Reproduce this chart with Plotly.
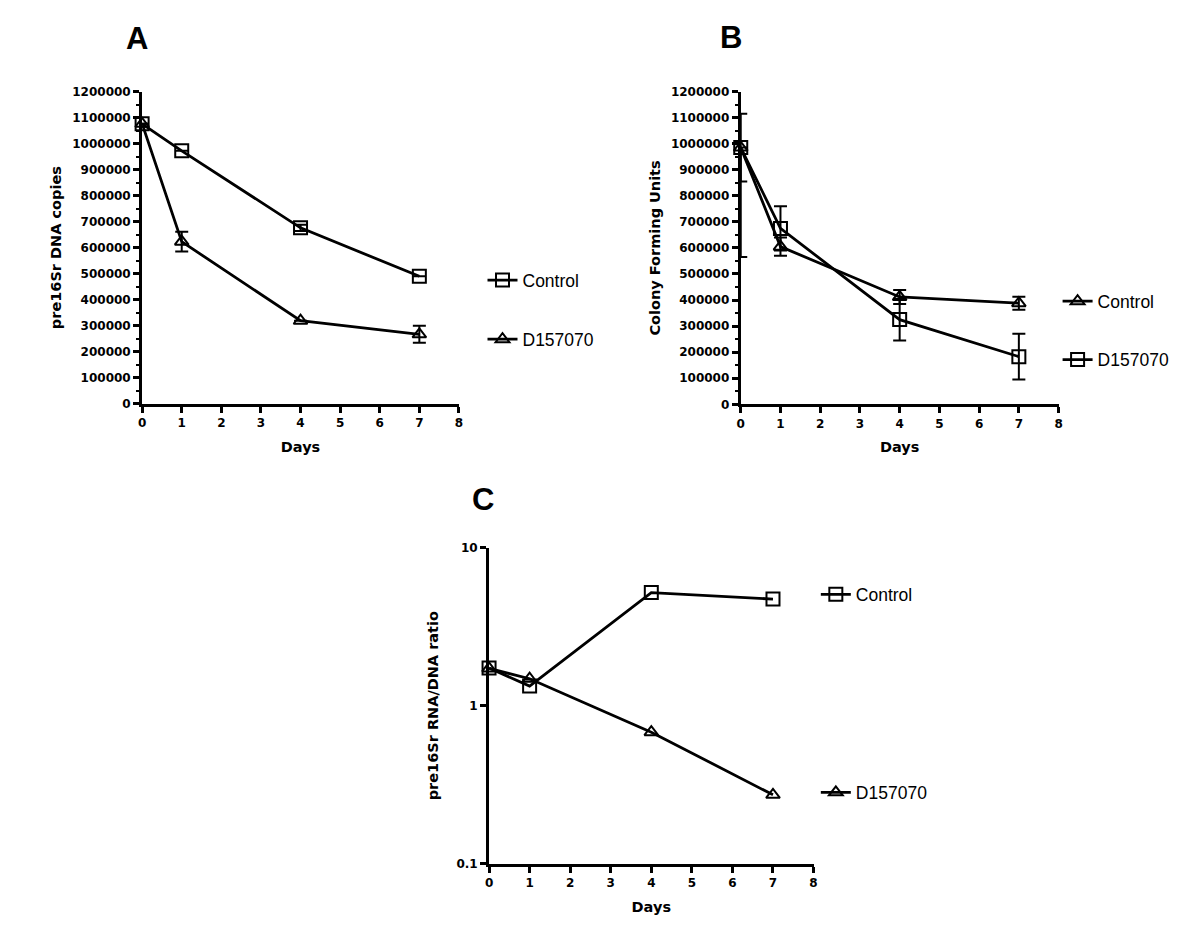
import plotly.graph_objects as go

days = [0, 1, 4, 7]

# Panel A: pre16Sr DNA copies
a_control = [1076000, 972000, 676000, 490000]
a_control_err = [0, 0, 12000, 0]
a_d157070 = [1076000, 623000, 319000, 267000]
a_d157070_err = [0, 38000, 0, 33000]

# Panel B: Colony Forming Units
b_control = [985000, 605000, 412000, 388000]
b_control_err = [130000, 35000, 27000, 25000]
b_d157070 = [985000, 675000, 325000, 183000]
b_d157070_err_plus = [0, 85000, 80000, 88000]
b_d157070_err_minus = [420000, 85000, 80000, 88000]

# Panel C: pre16Sr RNA/DNA ratio
c_control = [1.73, 1.33, 5.19, 4.72]
c_d157070 = [1.72, 1.48, 0.68, 0.273]

# page is offset by the browser's 8px body margin; work in reference pixels
W, H, OFF = 1184, 929, 8


def px(x):
    return (x - OFF) / W


def py(y):
    return 1 - (y - OFF) / H


FONT = "Liberation Sans, Arial, sans-serif"
WIDE = "DejaVu Sans, sans-serif"
LINE_W = 2.8

fig = go.Figure()


def add_series(x, y, sym, size, xaxis, yaxis, legend, name, err=None):
    kw = {}
    if err is not None:
        kw["error_y"] = err
    fig.add_trace(go.Scatter(
        x=x, y=y, mode="lines+markers", name=name,
        line=dict(color="black", width=LINE_W),
        marker=dict(symbol=sym, size=size, color="black",
                    line=dict(color="black", width=2)),
        xaxis=xaxis, yaxis=yaxis, legend=legend, cliponaxis=False, **kw))


def eb(arr, arrm=None):
    d = dict(type="data", array=arr, color="black", thickness=2, width=6.5, visible=True)
    if arrm is not None:
        d["symmetric"] = False
        d["arrayminus"] = arrm
    return d


# Panel A
add_series(days, a_control, "square-open", 13, "x", "y", "legend", "Control", eb(a_control_err))
add_series(days, a_d157070, "triangle-up-open", 12, "x", "y", "legend2", "D157070", eb(a_d157070_err))
# Panel B
add_series(days, b_control, "triangle-up-open", 12, "x2", "y2", "legend3", "Control", eb(b_control_err))
add_series(days, b_d157070, "square-open", 13, "x2", "y2", "legend4", "D157070",
           eb(b_d157070_err_plus, b_d157070_err_minus))
# Panel C
add_series(days, c_control, "square-open", 13, "x3", "y3", "legend5", "Control")
add_series(days, c_d157070, "triangle-up-open", 12, "x3", "y3", "legend6", "D157070")

tickfont = dict(family=WIDE, size=12, color="black", weight="bold")
titlefont = dict(family=WIDE, size=14.5, color="black", weight="bold")

xcommon = dict(range=[0, 8], dtick=1, tick0=0, showline=True, linewidth=3, linecolor="black",
               ticks="outside", ticklen=6, tickwidth=2.5, tickcolor="black",
               showgrid=False, zeroline=False, tickfont=tickfont,
               title=dict(text="Days", font=titlefont, standoff=13))
ylin = dict(range=[0, 1200000], dtick=100000, tick0=0, tickformat="d",
            showline=True, linewidth=3, linecolor="black",
            ticks="outside", ticklen=6, tickwidth=2.5, tickcolor="black",
            minor=dict(ticks="outside", ticklen=3, tickwidth=2, tickcolor="black", dtick=50000),
            showgrid=False, zeroline=False, tickfont=tickfont)

fig.update_layout(
    xaxis=dict(domain=[px(139), px(458)], anchor="y", **xcommon),
    yaxis=dict(domain=[py(402.7), py(85.7)], anchor="x",
               title=dict(text="pre16Sr DNA copies", font=titlefont, standoff=8), **ylin),
    xaxis2=dict(domain=[px(741.7), px(1061.7)], anchor="y2", **xcommon),
    yaxis2=dict(domain=[py(403.3), py(85.7)], anchor="x2",
                title=dict(text="Colony Forming Units", font=titlefont, standoff=7), **ylin),
    xaxis3=dict(domain=[px(488.3), px(815)], anchor="y3", **xcommon),
    yaxis3=dict(domain=[py(869.8), py(548.7)], anchor="x3", type="log", range=[-1, 1],
                tickvals=[0.1, 1, 10], ticktext=["0.1", "1", "10"],
                showline=True, linewidth=3, linecolor="black",
                ticks="outside", ticklen=6, tickwidth=2.5, tickcolor="black",
                showgrid=False, zeroline=False, tickfont=tickfont,
                title=dict(text="pre16Sr RNA/DNA ratio", font=titlefont, standoff=15)),
    width=W, height=H,
    margin=dict(l=0, r=0, t=0, b=0),
    paper_bgcolor="white", plot_bgcolor="white",
    showlegend=True,
)

legfont = dict(family=FONT, size=17.5, color="black")


def leg(text_x, text_y):
    return dict(x=px(text_x - 41), y=py(text_y - 2), xanchor="left", yanchor="middle",
                bgcolor="rgba(0,0,0,0)", borderwidth=0, font=legfont,
                itemwidth=30, tracegroupgap=0)


fig.update_layout(
    legend=leg(522.7, 279.3),
    legend2=leg(522.7, 339.3),
    legend3=leg(1101.7, 300.7),
    legend4=leg(1101.7, 360),
    legend5=leg(858.3, 598.3),
    legend6=leg(858.3, 799.3),
)

for txt, xp, yp in [("A", 133.7, 32), ("B", 732, 31), ("C", 482, 500)]:
    fig.add_annotation(text=txt, x=px(xp), y=py(yp), xref="paper", yref="paper",
                       showarrow=False, xanchor="center", yanchor="middle",
                       font=dict(family=FONT, size=31, color="black", weight="bold"))

fig.write_html("out.html")
